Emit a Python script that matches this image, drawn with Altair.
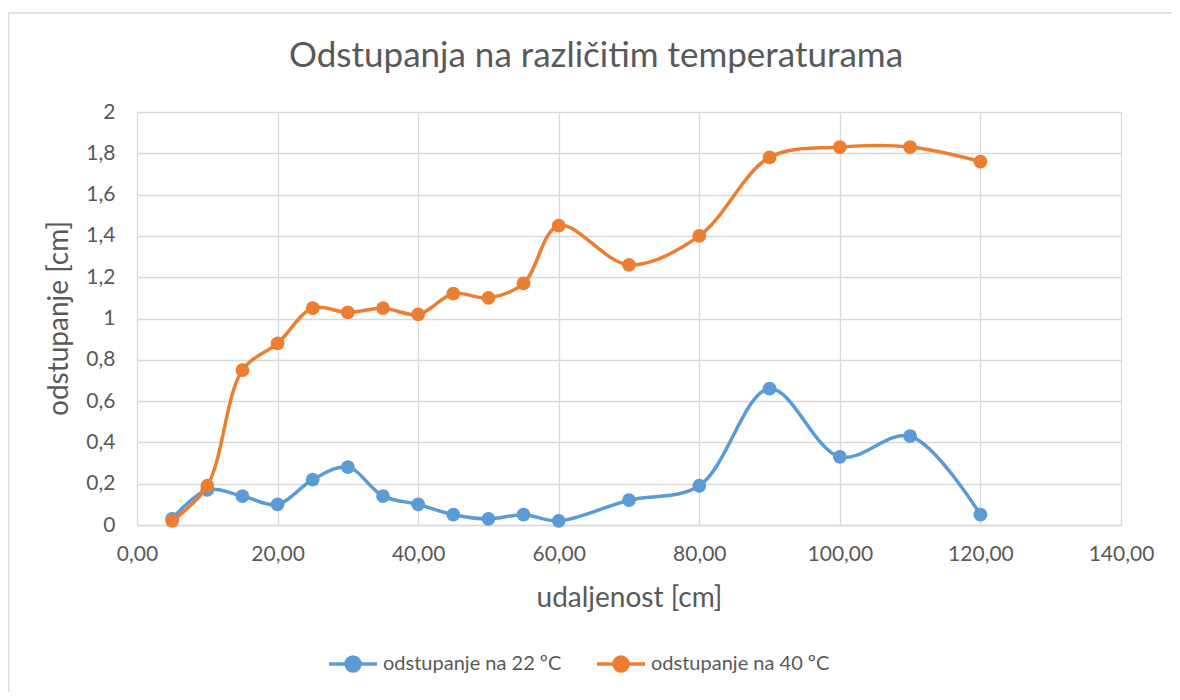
import altair as alt
import pandas as pd

# ---- data ----
x_cm = [5, 10, 15, 20, 25, 30, 35, 40, 45, 50, 55, 60, 70, 80, 90, 100, 110, 120]
dev_22 = [0.03, 0.17, 0.14, 0.10, 0.22, 0.28, 0.14, 0.10, 0.05, 0.03, 0.05, 0.02,
          0.12, 0.19, 0.66, 0.33, 0.43, 0.05]
dev_40 = [0.02, 0.19, 0.75, 0.88, 1.05, 1.03, 1.05, 1.02, 1.12, 1.10, 1.17, 1.45,
          1.26, 1.40, 1.78, 1.83, 1.83, 1.76]
series_names = ["odstupanje na 22 ºC", "odstupanje na 40 ºC"]
series_colors = ["#5B9BD5", "#ED7D31"]
x_ticks = [0, 20, 40, 60, 80, 100, 120, 140]
y_ticks = [0, 0.2, 0.4, 0.6, 0.8, 1.0, 1.2, 1.4, 1.6, 1.8, 2.0]

title_text = "Odstupanja na različitim temperaturama"
x_title = "udaljenost [cm]"
y_title = "odstupanje [cm]"

FONT = "Lato"
TXT = "#595959"
GRID = "#D9D9D9"

df22 = pd.DataFrame({"x": x_cm, "y": dev_22, "s": series_names[0]})
df40 = pd.DataFrame({"x": x_cm, "y": dev_40, "s": series_names[1]})

color_scale = alt.Scale(domain=series_names, range=series_colors)

x_enc = alt.X(
    "x:Q",
    scale=alt.Scale(domain=[0, 140], nice=False, zero=False),
    axis=alt.Axis(
        values=x_ticks,
        title=x_title,
        labelExpr="replace(format(datum.value, '.2f'), '.', ',')",
        labelFlush=False,
        grid=True, gridColor=GRID, gridWidth=1.3,
        ticks=False, domain=True, domainColor=GRID, domainWidth=1.5,
        labelFont=FONT, labelFontSize=21, labelColor=TXT, labelPadding=18,
        titleFont=FONT, titleFontSize=28, titleColor=TXT, titleFontWeight="normal",
        titlePadding=20,
    ),
)
y_enc = alt.Y(
    "y:Q",
    scale=alt.Scale(domain=[0, 2], nice=False, zero=False),
    axis=alt.Axis(
        values=y_ticks,
        title=None,
        labelExpr="replace(format(datum.value, '~g'), '.', ',')",
        labelFlush=False,
        grid=True, gridColor=GRID, gridWidth=1.3,
        ticks=False, domain=False,
        labelFont=FONT, labelFontSize=21, labelColor=TXT, labelPadding=22,
    ),
)

legend = alt.Legend(
    title=None, orient="none", direction="horizontal",
    legendX=190, legendY=526,
    symbolType="M-1,0L1,0M-0.29,0A0.29,0.29,0,1,1,0.29,0A0.29,0.29,0,1,1,-0.29,0Z",
    symbolSize=2304, symbolStrokeWidth=3.5,
    labelFont=FONT, labelFontSize=20, labelColor=TXT, labelOffset=4,
    labelLimit=400, columnPadding=28,
)


def line_layer(df, with_legend):
    return alt.Chart(df).mark_line(interpolate="catmull-rom", strokeWidth=3.5).encode(
        x=x_enc, y=y_enc,
        color=alt.Color("s:N", scale=color_scale, legend=legend if with_legend else None),
    )


def point_layer(df):
    return alt.Chart(df).mark_point(filled=True, size=190, opacity=1).encode(
        x=x_enc, y=y_enc,
        color=alt.Color("s:N", scale=color_scale, legend=None),
    )


dummy = pd.DataFrame({"a": [0]})
border_left = alt.Chart(dummy).mark_rule(color=GRID, strokeWidth=1.5).encode(
    x=alt.value(-128.5), y=alt.value(-99), y2=alt.value(600)
)
border_top = alt.Chart(dummy).mark_rule(color=GRID, strokeWidth=1.5).encode(
    x=alt.value(-128.5), x2=alt.value(1100), y=alt.value(-99)
)
y_title_mark = alt.Chart(dummy).mark_text(
    text=y_title, angle=270, font=FONT, fontSize=28, color=TXT,
    align="center", baseline="middle",
).encode(x=alt.value(-77), y=alt.value(206.5))

chart = alt.layer(
    border_left, border_top, y_title_mark,
    line_layer(df22, True), point_layer(df22),
    line_layer(df40, False), point_layer(df40),
).properties(
    width=984, height=413,
    title=alt.TitleParams(
        text=title_text, font=FONT, fontSize=35, color=TXT, fontWeight="normal",
        anchor="middle", frame="group", dx=-33, offset=-62,
    ),
    autosize=alt.AutoSizeParams(type="none"),
    padding={"left": 129, "top": 104, "right": 51, "bottom": 167},
).configure_view(
    stroke=GRID, strokeWidth=1.3
).configure(background="white")

chart.save("out.html", embed_options={"renderer": "svg", "actions": False})
